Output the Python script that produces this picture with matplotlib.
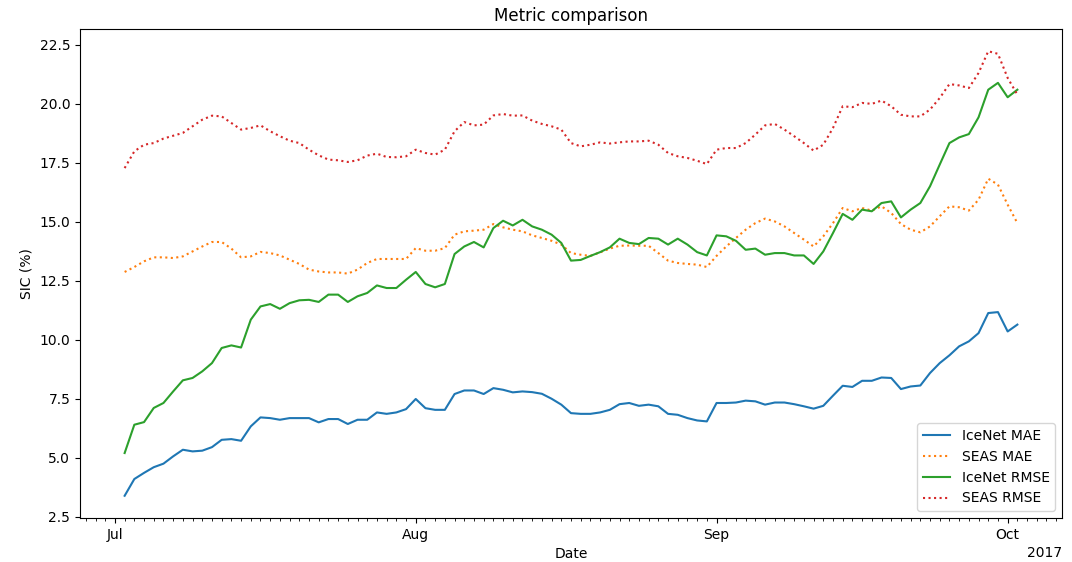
import numpy as np
import pandas as pd
import matplotlib
matplotlib.use("Agg")
import matplotlib.pyplot as plt
import matplotlib.dates as mdates

dates = pd.date_range("2017-07-02", "2017-10-02", freq="D")

icenet_mae = [
    3.39, 4.10, 4.36, 4.60, 4.75, 5.06, 5.34, 5.27, 5.30, 5.45, 5.76, 5.79, 5.72, 6.33, 6.71,
    6.68, 6.61, 6.68, 6.68, 6.68, 6.50, 6.64, 6.64, 6.43, 6.61, 6.61, 6.92, 6.86, 6.92, 7.06, 7.49,
    7.10, 7.03, 7.03, 7.70, 7.85, 7.85, 7.70, 7.95, 7.88, 7.77, 7.81, 7.78, 7.71, 7.50, 7.25, 6.89,
    6.86, 6.86, 6.92, 7.03, 7.27, 7.32, 7.20, 7.25, 7.18, 6.86, 6.82, 6.68, 6.58, 6.54, 7.32, 7.32,
    7.34, 7.42, 7.39, 7.25, 7.34, 7.34, 7.27, 7.18, 7.08, 7.20, 7.63, 8.05, 8.00, 8.26, 8.26,
    8.40, 8.38, 7.91, 8.02, 8.06, 8.59, 9.01, 9.34, 9.72, 9.93, 10.28, 11.13, 11.17, 10.35, 10.64,
]

seas_mae = [
    12.87, 13.08, 13.32, 13.49, 13.49, 13.46, 13.53, 13.74, 13.95, 14.14, 14.14, 13.86, 13.49, 13.53, 13.72,
    13.67, 13.57, 13.39, 13.21, 12.97, 12.89, 12.85, 12.85, 12.80, 12.97, 13.25, 13.42, 13.42, 13.42, 13.42, 13.88,
    13.77, 13.77, 13.88, 14.45, 14.59, 14.62, 14.66, 14.90, 14.76, 14.66, 14.59, 14.42, 14.31, 14.19, 14.03, 13.67,
    13.60, 13.55, 13.70, 13.86, 13.98, 13.99, 13.98, 13.98, 13.67, 13.35, 13.25, 13.21, 13.18, 13.08, 13.55, 13.95,
    14.31, 14.66, 14.94, 15.13, 15.01, 14.80, 14.52, 14.24, 13.95, 14.38, 14.94, 15.58, 15.44, 15.58, 15.47,
    15.65, 15.37, 14.90, 14.66, 14.55, 14.80, 15.23, 15.65, 15.61, 15.47, 15.93, 16.82, 16.57, 15.72, 14.94,
]

icenet_rmse = [
    5.20, 6.40, 6.51, 7.11, 7.32, 7.81, 8.28, 8.38, 8.66, 9.01, 9.65, 9.76, 9.67, 10.85, 11.41,
    11.51, 11.31, 11.55, 11.67, 11.69, 11.60, 11.91, 11.91, 11.60, 11.84, 11.98, 12.30, 12.19, 12.19, 12.54, 12.87,
    12.36, 12.22, 12.36, 13.63, 13.95, 14.14, 13.91, 14.73, 15.04, 14.84, 15.08, 14.80, 14.66, 14.45, 14.10, 13.35,
    13.38, 13.55, 13.71, 13.91, 14.28, 14.10, 14.05, 14.31, 14.28, 14.03, 14.28, 14.03, 13.71, 13.57, 14.42, 14.38,
    14.19, 13.81, 13.86, 13.60, 13.67, 13.67, 13.57, 13.57, 13.21, 13.74, 14.52, 15.33, 15.08, 15.51, 15.44,
    15.79, 15.86, 15.18, 15.51, 15.79, 16.50, 17.42, 18.33, 18.57, 18.71, 19.42, 20.59, 20.88, 20.27, 20.59,
]

seas_rmse = [
    17.27, 17.98, 18.26, 18.33, 18.52, 18.64, 18.76, 19.04, 19.32, 19.49, 19.46, 19.18, 18.90, 18.97, 19.08,
    18.83, 18.62, 18.43, 18.33, 18.05, 17.81, 17.63, 17.60, 17.53, 17.60, 17.80, 17.88, 17.74, 17.73, 17.77, 18.05,
    17.91, 17.84, 18.05, 18.83, 19.22, 19.08, 19.11, 19.50, 19.56, 19.49, 19.50, 19.28, 19.14, 19.04, 18.90, 18.33,
    18.19, 18.26, 18.36, 18.31, 18.36, 18.40, 18.40, 18.43, 18.26, 17.91, 17.77, 17.70, 17.58, 17.44, 18.05, 18.12,
    18.12, 18.33, 18.69, 19.08, 19.14, 18.90, 18.62, 18.33, 18.01, 18.26, 18.97, 19.89, 19.85, 20.03, 19.99,
    20.13, 19.89, 19.53, 19.46, 19.46, 19.75, 20.24, 20.83, 20.77, 20.66, 21.30, 22.22, 22.11, 21.09, 20.38,
]

fig = plt.figure(figsize=(10.72, 5.62), dpi=100)
ax = fig.add_axes([80 / 1072, 1 - 518 / 562, (1062 - 80) / 1072, (518 - 29) / 562])

ax.plot(dates, icenet_mae, color="tab:blue", linestyle="-", label="IceNet MAE")
ax.plot(dates, seas_mae, color="tab:orange", linestyle=":", label="SEAS MAE")
ax.plot(dates, icenet_rmse, color="tab:green", linestyle="-", label="IceNet RMSE")
ax.plot(dates, seas_rmse, color="tab:red", linestyle=":", label="SEAS RMSE")

locator = mdates.MonthLocator()
ax.xaxis.set_major_locator(locator)
ax.xaxis.set_major_formatter(mdates.ConciseDateFormatter(locator))
ax.xaxis.set_minor_locator(mdates.DayLocator())

ax.set_title("Metric comparison")
ax.set_xlabel("Date")
ax.set_ylabel("SIC (%)")
ax.legend(loc="lower right")

fig.savefig("out.png", dpi=100)
